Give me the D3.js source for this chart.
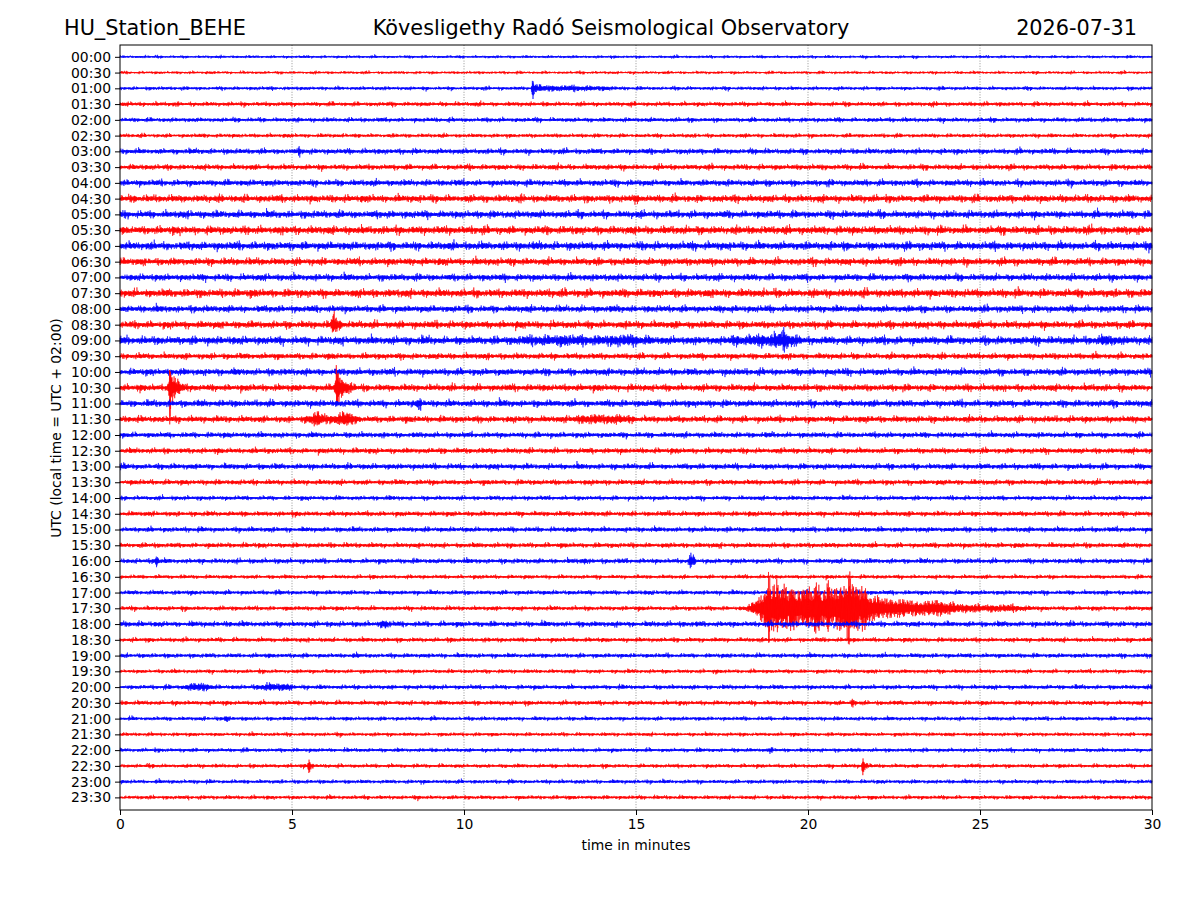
<!DOCTYPE html>
<html><head><meta charset="utf-8">
<script src="https://cdn.jsdelivr.net/npm/d3@7"></script>
<style>
body{margin:0;background:#fff}
text{font-family:"DejaVu Sans",sans-serif;fill:#000}
</style></head>
<body><svg id="chart" width="1200" height="900"></svg>
<script>
// ---------- data ----------
const rowLabels = ["00:00","00:30","01:00","01:30","02:00","02:30","03:00","03:30","04:00","04:30","05:00","05:30",
"06:00","06:30","07:00","07:30","08:00","08:30","09:00","09:30","10:00","10:30","11:00","11:30",
"12:00","12:30","13:00","13:30","14:00","14:30","15:00","15:30","16:00","16:30","17:00","17:30",
"18:00","18:30","19:00","19:30","20:00","20:30","21:00","21:30","22:00","22:30","23:00","23:30"];
const traceColors = ["#0000ff","#ff0000"];
// typical noise half-width per row (in row-spacing units)
const noiseLevel = [0.055,0.055,0.07,0.085,0.085,0.075,0.105,0.105,0.12,0.14,0.14,0.155,
0.155,0.14,0.13,0.155,0.13,0.14,0.155,0.115,0.13,0.13,0.13,0.125,
0.105,0.105,0.11,0.1,0.085,0.095,0.095,0.095,0.095,0.075,0.085,0.085,
0.105,0.085,0.085,0.075,0.085,0.085,0.075,0.07,0.075,0.075,0.075,0.075];
// events: row index, envelope keypoints [minute, half-width in row units]
const events = [
 {row:2,  env:[[11.95,0],[11.98,0.3],[11.99,0.6],[12.01,0.6],[12.03,0.25],[12.1,0.12],[12.5,0.08],[14.0,0.05],[14.5,0]]},
 {row:6,  env:[[5.15,0],[5.2,0.14],[5.3,0]]},
 {row:9,  env:[[14.95,0],[15.0,0.14],[15.1,0]]},
 {row:17, env:[[6.1,0],[6.17,0.25],[6.19,0.55],[6.22,0.55],[6.26,0.25],[6.4,0.1],[6.5,0]]},
 {row:18, env:[[11.2,0],[11.6,0.06],[12.4,0.08],[12.9,0.14],[13.2,0.08],[14.3,0.08],[14.8,0.16],[15.2,0.04],[16,0]]},
 {row:18, env:[[17.5,0],[18.0,0.08],[18.8,0.15],[19.25,0.3],[19.28,0.5],[19.32,0.5],[19.4,0.2],[19.6,0.08],[20,0]]},
 {row:18, env:[[28.3,0],[28.7,0.13],[29.2,0]]},
 {row:21, env:[[1.37,0],[1.42,0.45],[1.435,0.9],[1.445,1.9],[1.465,1.9],[1.475,0.9],[1.5,0.7],[1.6,0.35],[1.8,0.12],[2.0,0]]},
 {row:21, env:[[6.22,0],[6.27,0.45],[6.285,0.85],[6.295,1.7],[6.315,1.7],[6.325,0.8],[6.36,0.65],[6.45,0.35],[6.7,0.12],[6.9,0]]},
 {row:22, env:[[8.6,0],[8.7,0.2],[8.8,0]]},
 {row:23, env:[[5.3,0],[5.6,0.15],[5.7,0.3],[5.9,0.08],[6.3,0.12],[6.6,0.3],[6.8,0.08],[7.0,0]]},
 {row:23, env:[[13.0,0],[13.5,0.1],[14.5,0.1],[15,0]]},
 {row:32, env:[[1.0,0],[1.05,0.28],[1.15,0]]},
 {row:32, env:[[13.4,0],[13.5,0.1],[13.6,0]]},
 {row:32, env:[[16.5,0],[16.6,0.32],[16.75,0]]},
 {row:35, env:[[18.2,0],[18.45,0.3],[18.7,0.7],[18.8,1.1],[18.84,2.1],[18.88,2.1],[18.92,1.1],[19.05,1.2],[19.1,1.5],
   [19.15,1.0],[19.3,1.3],[19.45,0.8],[19.55,1.6],[19.62,0.9],[19.8,0.8],[20.0,1.3],[20.1,0.8],[20.3,1.6],[20.38,0.85],
   [20.5,0.9],[20.6,1.5],[20.7,0.9],[20.9,1.1],[21.1,1.4],[21.18,1.9],[21.22,1.9],[21.3,1.1],[21.4,1.5],[21.5,0.9],
   [21.6,1.2],[21.8,0.65],[22.0,0.55],[22.3,0.42],[22.7,0.4],[23.0,0.3],[23.5,0.3],[23.8,0.35],[24.0,0.24],
   [24.5,0.14],[25,0.11],[26,0.09],[26.4,0.03],[26.8,0]]},
 {row:36, env:[[7.5,0],[7.7,0.13],[7.9,0]]},
 {row:40, env:[[1.8,0],[2.1,0.13],[2.5,0.09],[2.8,0]]},
 {row:40, env:[[3.8,0],[4.2,0.09],[4.9,0.1],[5.1,0]]},
 {row:41, env:[[21.2,0],[21.3,0.15],[21.4,0]]},
 {row:42, env:[[3.0,0],[3.1,0.12],[3.2,0]]},
 {row:44, env:[[18.85,0],[18.9,0.1],[19.0,0]]},
 {row:45, env:[[5.44,0],[5.48,0.2],[5.49,0.4],[5.51,0.4],[5.53,0.15],[5.6,0.05],[5.7,0]]},
 {row:45, env:[[21.54,0],[21.58,0.25],[21.59,0.5],[21.61,0.5],[21.63,0.2],[21.7,0.08],[21.8,0]]}
];
const xTicks = [0,5,10,15,20,25,30];
// hand-written wiggle texture multipliers
const texA = [0.62,0.85,0.41,0.77,0.95,0.33,0.68,0.52,1.05,0.47,0.71,0.88,0.29,0.64,1.6,0.55,0.38,0.81,1.25,0.6,
0.44,0.73,0.9,0.35,0.66,0.58,0.99,0.42,0.76,0.5,0.84,0.31,0.69,1.12,0.57,0.46,0.8,1.8,0.37,0.92,
0.54,0.72,0.4,0.86,0.61,1.4,0.49,0.67,0.34,0.79,0.56,0.97,0.43,0.7,1.5,0.39,0.65,0.51,0.89,0.45,0.75];
const texB = [1.0,0.9,1.1,0.95,1.2,0.85,1.05,1.0,0.8,1.15,0.92,1.08,0.88,1.3,0.97,1.02,0.86,1.12,0.94,1.0,
1.18,0.83,1.06,0.91,1.25,0.96,0.89,1.1,0.99,0.87,1.14,0.93,1.04,0.9,1.22,0.98,1.01];
const slowMod = [1,0.85,1.1,0.9,1.25,0.8,0.95,1.15,0.75,1.05,0.9,1.3,0.85,1,0.95,1.2,0.8,1.1,0.9,1.05,0.85,1.35,
0.9,1,0.8,1.15,0.95,1.1,0.85,1.2,0.9,1,0.75,1.25,0.95,1.05,0.85,1.1,0.9,1.3,0.8,1,0.95,1.15,0.85,1.05,0.9,1.2,0.8,1.1,1,0.9,1.15];

// ---------- layout ----------
const M = {left:120, right:1152, top:45, bottom:810};
const svg = d3.select("#chart");
const x = d3.scaleLinear().domain([0,30]).range([M.left, M.right]);
const y = d3.scaleLinear().domain([-0.75, 47.8]).range([M.top, M.bottom]);

// grid
svg.append("g").selectAll("line").data(xTicks.slice(1,-1)).join("line")
  .attr("x1", d=>x(d)).attr("x2", d=>x(d)).attr("y1", M.top).attr("y2", M.bottom)
  .attr("stroke","#000").attr("stroke-width",0.6).attr("stroke-dasharray","1,1.6").attr("opacity",0.7);

// envelope functions
const evScales = events.map(e => ({row:e.row, lo:e.env[0][0], hi:e.env[e.env.length-1][0],
  s: d3.scaleLinear().domain(e.env.map(p=>p[0])).range(e.env.map(p=>p[1])).clamp(true)}));

const N = 5000;
const line = d3.line().x(d=>x(d[0])).y(d=>y(d[1]));
const traces = svg.append("g");
rowLabels.forEach((lab, r) => {
  const pts = [];
  const evs = evScales.filter(e => e.row === r);
  for (let i = 0; i <= N; i++) {
    const t = 30 * i / N;
    let env = noiseLevel[r] * slowMod[(Math.floor(t*4) + r*11) % slowMod.length];
    const w = texA[(i*7 + r*13) % texA.length] * texB[(i + r*5) % texB.length];
    let ev = 0;
    for (const e of evs) if (t >= e.lo && t <= e.hi) ev += e.s(t);
    const sgn = (i % 2 === 0) ? 1 : -1;
    pts.push([t, r - sgn * (env * w + ev * Math.max(0.5, Math.min(w, 1.15)))]);
  }
  traces.append("path").attr("d", line(pts)).attr("fill","none")
    .attr("stroke", traceColors[r % 2]).attr("stroke-width", 0.6);
});

// frame
svg.append("rect").attr("x",M.left).attr("y",M.top).attr("width",M.right-M.left).attr("height",M.bottom-M.top)
  .attr("fill","none").attr("stroke","#000").attr("stroke-width",1);

// axes
const yAxis = d3.axisLeft(y).tickValues(d3.range(rowLabels.length)).tickFormat(i=>rowLabels[i]).tickSize(5).tickPadding(4);
const gy = svg.append("g").attr("transform",`translate(${M.left},0)`).call(yAxis);
gy.select(".domain").remove();
gy.selectAll("text").attr("font-size","13.9px").attr("font-family","DejaVu Sans");
const xAxis = d3.axisBottom(x).tickValues(xTicks).tickFormat(d3.format("d")).tickSize(5).tickPadding(4);
const gx = svg.append("g").attr("transform",`translate(0,${M.bottom})`).call(xAxis);
gx.select(".domain").remove();
gx.selectAll("text").attr("font-size","13.9px").attr("font-family","DejaVu Sans");

// titles
svg.append("text").attr("x",64).attr("y",35).attr("font-size","20.8px").text("HU_Station_BEHE");
svg.append("text").attr("x",611).attr("y",35).attr("font-size","20.8px").attr("text-anchor","middle")
  .text("Kövesligethy Radó Seismological Observatory");
svg.append("text").attr("x",1137).attr("y",35).attr("font-size","20.8px").attr("text-anchor","end").text("2026-07-31");
svg.append("text").attr("x",636).attr("y",850).attr("font-size","13.9px").attr("text-anchor","middle").text("time in minutes");
svg.append("text").attr("transform","translate(61,428) rotate(-90)").attr("font-size","13.9px")
  .attr("text-anchor","middle").text("UTC (local time = UTC + 02:00)");
</script></body></html>
